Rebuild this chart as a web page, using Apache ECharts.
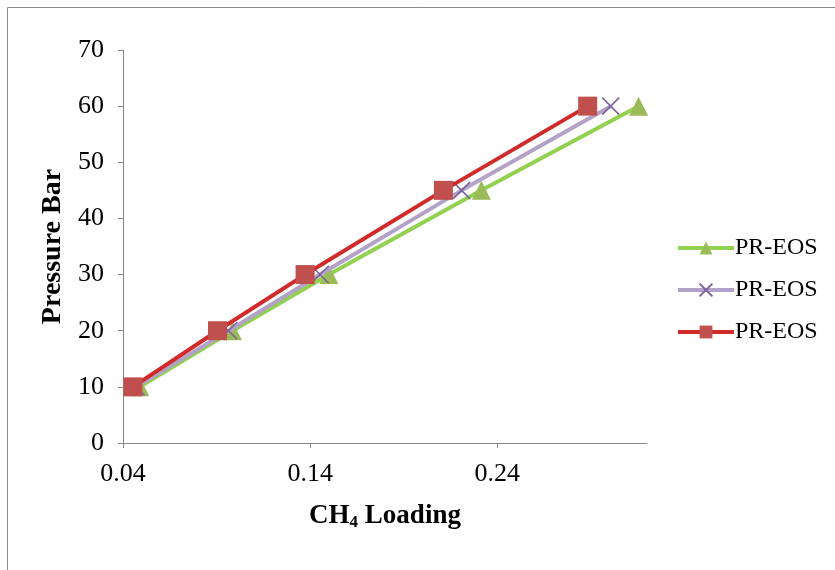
<!DOCTYPE html>
<html>
<head>
<meta charset="utf-8">
<script src="https://cdn.jsdelivr.net/npm/echarts@6/dist/echarts.min.js"></script>
<style>
  html, body { margin: 0; padding: 0; background: #fff; }
  #chart { width: 835px; height: 570px; }
</style>
</head>
<body>
<div id="chart"></div>
<script>
// Pressure levels (bar) shared by all three curves
const pressure = [10, 20, 30, 45, 60];
// CH4 loading for each model curve
const loadingA = [0.049, 0.0985, 0.150, 0.2315, 0.3155];
const loadingB = [0.047, 0.0964, 0.1453, 0.2209, 0.3006];
const loadingC = [0.0453, 0.0905, 0.1373, 0.2112, 0.2883];
const seriesLabel = 'PR-EOS';
const xTicks = [0.04, 0.14, 0.24];

const pairs = xs => xs.map((x, i) => [x, pressure[i]]);
const serif = '"Liberation Serif", "DejaVu Serif", serif';

const chart = echarts.init(document.getElementById('chart'));
chart.setOption({
  animation: false,
  textStyle: { fontFamily: serif },
  graphic: [{
    type: 'rect',
    shape: { x: 7.5, y: 7.5, width: 840, height: 580 },
    style: { fill: 'none', stroke: '#8a8a8a', lineWidth: 1 },
    silent: true
  }],
  grid: { left: 123, right: 188, top: 50, bottom: 127 },
  legend: {
    orient: 'vertical',
    left: 671,
    top: 231,
    itemGap: 18,
    itemWidth: 56,
    itemHeight: 16,
    lineStyle: { width: 4 },
    textStyle: { fontFamily: serif, fontSize: 24, color: '#000', padding: [0, 0, 0, -4] },
    data: [{ name: 'a' }, { name: 'b' }, { name: 'c' }],
    formatter: () => seriesLabel
  },
  xAxis: {
    type: 'value',
    min: 0.04,
    max: 0.32,
    interval: 0.1,
    name: '{b|CH}{s|4}{b| Loading}',
    nameLocation: 'middle',
    nameGap: 58,
    nameTextStyle: {
      rich: {
        b: { fontFamily: serif, fontWeight: 'bold', fontSize: 27, color: '#000', lineHeight: 30, verticalAlign: 'middle' },
        s: { fontFamily: serif, fontWeight: 'bold', fontSize: 17, color: '#000', lineHeight: 30, verticalAlign: 'bottom', padding: [16, 0, 0, 0] }
      }
    },
    axisLine: { show: true, lineStyle: { color: '#868686', width: 1 } },
    axisTick: { show: true, inside: false, length: 5, customValues: xTicks, lineStyle: { color: '#868686' } },
    axisLabel: { customValues: xTicks, fontFamily: serif, fontSize: 26, color: '#000', margin: 18, formatter: v => v.toFixed(2) },
    splitLine: { show: false }
  },
  yAxis: {
    type: 'value',
    min: 0,
    max: 70,
    interval: 10,
    name: 'Pressure Bar',
    nameLocation: 'middle',
    nameGap: 53,
    nameTextStyle: { fontFamily: serif, fontWeight: 'bold', fontSize: 28, color: '#000' },
    axisLine: { show: true, lineStyle: { color: '#868686', width: 1 } },
    axisTick: { show: true, inside: false, length: 5, lineStyle: { color: '#868686' } },
    axisLabel: { fontFamily: serif, fontSize: 26, color: '#000', margin: 19 },
    splitLine: { show: false }
  },
  series: [
    {
      name: 'a', type: 'line', data: pairs(loadingA), z: 2,
      symbol: 'triangle', symbolSize: 19,
      lineStyle: { color: '#92d050', width: 4 },
      itemStyle: { color: '#9bbb59' }
    },
    {
      name: 'b', type: 'line', data: pairs(loadingB), z: 3,
      symbol: 'path://M0,0L10,10M10,0L0,10', symbolSize: 17,
      lineStyle: { color: '#b3a2c7', width: 4 },
      itemStyle: { color: 'rgba(0,0,0,0)', borderColor: '#7b5fa0', borderWidth: 1.5 }
    },
    {
      name: 'c', type: 'line', data: pairs(loadingC), z: 4,
      symbol: 'rect', symbolSize: 19,
      lineStyle: { color: '#d02a2a', width: 4 },
      itemStyle: { color: '#c0504d' }
    }
  ]
});
</script>
</body>
</html>
